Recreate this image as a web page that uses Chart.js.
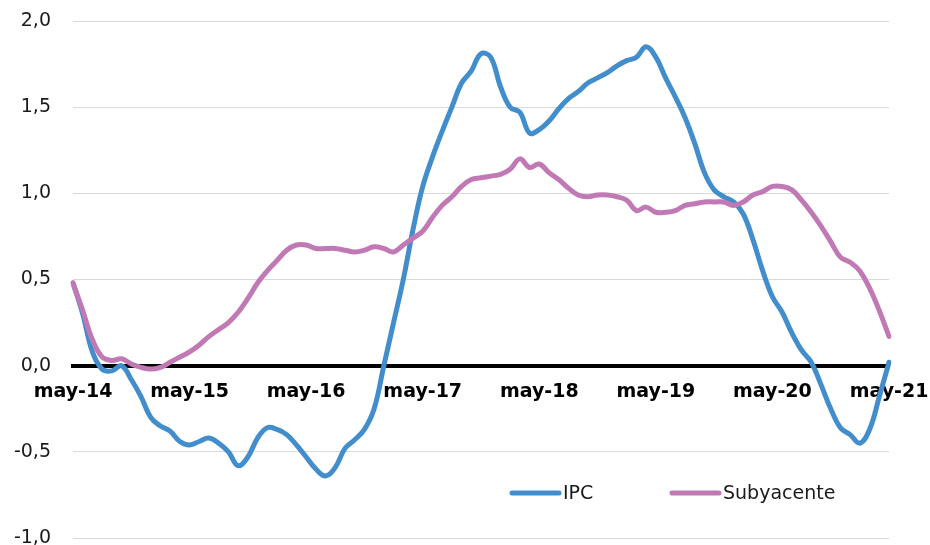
<!DOCTYPE html>
<html>
<head>
<meta charset="utf-8">
<script src="https://cdn.jsdelivr.net/npm/chart.js@4/dist/chart.umd.min.js"></script>
<style>
  html, body { margin: 0; padding: 0; background: #ffffff; }
  #wrap { width: 930px; height: 545px; position: relative; }
</style>
</head>
<body>
<div id="wrap"><canvas id="c"></canvas></div>
<script>
// ---- Data ----
const MONTHS = ['may','jun','jul','ago','sep','oct','nov','dic','ene','feb','mar','abr'];
const START_YEARS = ['14','15','16','17','18','19','20'];
const END_LABEL = 'may-21';

// Categories: may-14 ... may-21 (monthly)
const categories = [];
START_YEARS.forEach(function (yy) {
  MONTHS.forEach(function (m, j) {
    const y = (j < 8) ? yy : String(parseInt(yy, 10) + 1).padStart(2, '0');
    categories.push(m + '-' + y);
  });
});
categories.push(END_LABEL);

const ipc = [
  0.48, 0.30, 0.08, -0.02, -0.03, 0.00, -0.08, -0.18, -0.30, -0.35,
  -0.38, -0.44, -0.46, -0.44, -0.42, -0.45, -0.50, -0.58, -0.53, -0.42,
  -0.36, -0.37, -0.40, -0.46, -0.53, -0.60, -0.64, -0.59, -0.48, -0.43,
  -0.37, -0.25, 0.00, 0.25, 0.50, 0.79, 1.04, 1.21, 1.36, 1.50,
  1.64, 1.71, 1.81, 1.79, 1.62, 1.50, 1.47, 1.35, 1.37, 1.42,
  1.49, 1.55, 1.59, 1.64, 1.67, 1.70, 1.74, 1.77, 1.79, 1.85,
  1.79, 1.67, 1.56, 1.44, 1.29, 1.12, 1.02, 0.98, 0.95, 0.88,
  0.73, 0.55, 0.40, 0.31, 0.19, 0.09, 0.02, -0.11, -0.25, -0.36,
  -0.40, -0.45, -0.37, -0.18, 0.02
];

const subyacente = [
  0.48, 0.32, 0.15, 0.05, 0.03, 0.04, 0.01, -0.01, -0.02, -0.01,
  0.02, 0.05, 0.08, 0.12, 0.17, 0.21, 0.25, 0.31, 0.39, 0.48,
  0.55, 0.61, 0.67, 0.70, 0.70, 0.68, 0.68, 0.68, 0.67, 0.66,
  0.67, 0.69, 0.68, 0.66, 0.70, 0.74, 0.78, 0.86, 0.93, 0.98,
  1.04, 1.08, 1.09, 1.10, 1.11, 1.14, 1.20, 1.15, 1.17, 1.12,
  1.08, 1.03, 0.99, 0.98, 0.99, 0.99, 0.98, 0.96, 0.90, 0.92,
  0.89, 0.89, 0.90, 0.93, 0.94, 0.95, 0.95, 0.95, 0.93, 0.95,
  0.99, 1.01, 1.04, 1.04, 1.02, 0.96, 0.89, 0.81, 0.72, 0.63,
  0.60, 0.55, 0.45, 0.32, 0.17
];

const seriesNames = ['IPC', 'Subyacente'];
const Y_MIN = -1, Y_MAX = 2, Y_STEP = 0.5;

// ---- Styles ----
const BLUE = '#428DCB';
const PINK = '#C079B5';
const FONT = '"DejaVu Sans", Verdana, sans-serif';

// Custom in-plot legend (bottom right)
const inPlotLegend = {
  id: 'inPlotLegend',
  afterDraw(chart) {
    const ctx = chart.ctx;
    const items = chart.data.datasets;
    const pos = [{ x: 512, y: 493 }, { x: 672, y: 493 }];
    ctx.save();
    ctx.font = '19px ' + FONT;
    ctx.textBaseline = 'middle';
    ctx.textAlign = 'left';
    items.forEach(function (ds, i) {
      const p = pos[i];
      ctx.strokeStyle = ds.borderColor;
      ctx.lineWidth = 5;
      ctx.lineCap = 'round';
      ctx.beginPath();
      ctx.moveTo(p.x, p.y);
      ctx.lineTo(p.x + 47, p.y);
      ctx.stroke();
      ctx.fillStyle = '#1a1a1a';
      ctx.fillText(ds.label, p.x + 51, p.y + 1);
    });
    ctx.restore();
  }
};

new Chart(document.getElementById('c'), {
  type: 'line',
  data: {
    labels: categories,
    datasets: [
      {
        label: seriesNames[0], data: ipc, borderColor: BLUE, backgroundColor: BLUE,
        borderWidth: 5, pointRadius: 0, tension: 0.4, fill: false,
        borderCapStyle: 'round', borderJoinStyle: 'round', order: 1
      },
      {
        label: seriesNames[1], data: subyacente, borderColor: PINK, backgroundColor: PINK,
        borderWidth: 5, pointRadius: 0, tension: 0.4, fill: false,
        borderCapStyle: 'round', borderJoinStyle: 'round', order: 0
      }
    ]
  },
  options: {
    responsive: true,
    maintainAspectRatio: false,
    animation: false,
    layout: { padding: { top: 21, right: 41, bottom: 7, left: 0 } },
    plugins: {
      legend: { display: false },
      tooltip: { enabled: false }
    },
    scales: {
      x: {
        type: 'category',
        position: { y: 0 },
        offset: false,
        grid: { display: false, drawTicks: false },
        border: { display: true, color: '#000000', width: 4 },
        afterFit: function (scale) { scale.height = 0; scale.paddingLeft = 0; scale.paddingRight = 0; },
        ticks: {
          autoSkip: false,
          maxRotation: 0,
          minRotation: 0,
          padding: 15,
          color: '#000000',
          font: { family: FONT, size: 19, weight: 'bold' },
          callback: function (v, i) { return (i % 12 === 0) ? this.getLabelForValue(v) : ''; }
        }
      },
      y: {
        min: Y_MIN, max: Y_MAX,
        grid: { color: '#D9D9D9', lineWidth: 1, drawTicks: false },
        border: { display: false },
        afterFit: function (scale) { scale.width = 73; scale.paddingTop = 0; scale.paddingBottom = 0; },
        ticks: {
          stepSize: Y_STEP,
          padding: 22,
          color: '#1a1a1a',
          font: { family: FONT, size: 19 },
          callback: function (v) { return v.toFixed(1).replace('.', ','); }
        }
      }
    }
  },
  plugins: [inPlotLegend]
});
</script>
</body>
</html>
